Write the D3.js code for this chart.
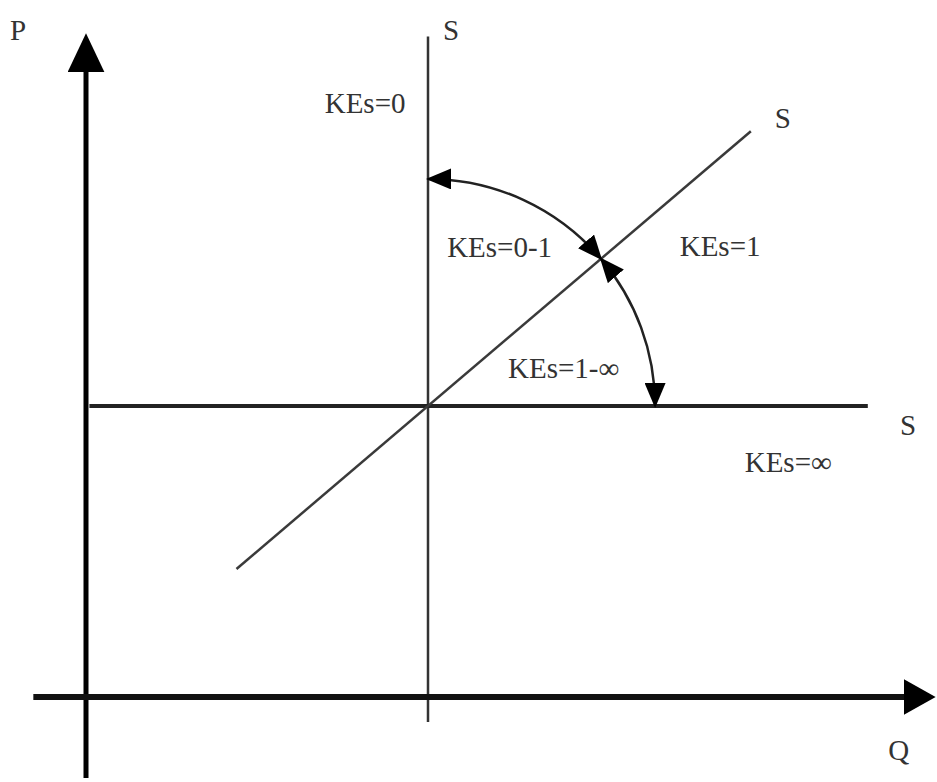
<!DOCTYPE html>
<html>
<head>
<meta charset="utf-8">
<script src="https://cdn.jsdelivr.net/npm/d3@7"></script>
<style>
html, body { margin: 0; padding: 0; background: #fff; }
svg { display: block; }
</style>
</head>
<body>
<svg id="chart"></svg>
<script>
// 軸の範囲 (データ単位: Q, P)
var axisQ = [-0.77, 12.1];
var axisP = [-1.39, 10.94];

// 供給曲線 S
var supplyInelastic = [[5, -0.43], [5, 11.35]];     // KEs=0
var supplyUnit = [[2.2, 2.2], [9.72, 9.72]];        // KEs=1
var supplyElastic = [[0.05, 5], [11.43, 5]];        // KEs=∞

// 弧 (中心と水平の S に届く Q)
var arcCenter = [5, 5];
var arcEndQ = 8.32;

// ラベル
var elasticityLabels = ["KEs=0", "KEs=0-1", "KEs=1", "KEs=1-∞", "KEs=∞"];
var elasticityQ = [3.49, 5.28, 8.68, 6.17, 9.63];
var elasticityP = [10.03, 7.56, 7.58, 5.48, 3.87];
var curveNames = ["S", "S", "S"];
var curveNameQ = [5.22, 10.07, 11.9];
var curveNameP = [11.29, 9.78, 4.5];
var axisNames = ["P", "Q"];
var axisNameQ = [-1.11, 11.73];
var axisNameP = [11.29, -1.08];

var width = 937;
var height = 782;

var svg = d3.select("#chart")
    .attr("width", width)
    .attr("height", height);

var x = d3.scaleLinear().domain([0, 10]).range([86, 770]);
var y = d3.scaleLinear().domain([0, 10]).range([697, 115]);

var defs = svg.append("defs");

// 矢印のマーカー
function addMarker(id, len, wid, refX) {
    defs.append("marker")
        .attr("id", id)
        .attr("markerUnits", "userSpaceOnUse")
        .attr("viewBox", "0 0 " + len + " " + wid)
        .attr("markerWidth", len)
        .attr("markerHeight", wid)
        .attr("refX", refX)
        .attr("refY", wid / 2)
        .attr("orient", "auto-start-reverse")
        .append("path")
        .attr("d", "M0,0 L" + len + "," + (wid / 2) + " L0," + wid + " Z")
        .attr("fill", "#000");
}
addMarker("headY", 39, 37, 12);
addMarker("headX", 32, 36, 10);
addMarker("headArc", 25, 21, 23);

var line = d3.line()
    .x(function (d) { return x(d[0]); })
    .y(function (d) { return y(d[1]); });

// 供給曲線
svg.append("path")
    .attr("d", line(supplyInelastic))
    .attr("stroke", "#333")
    .attr("stroke-width", 2.5)
    .attr("fill", "none");
svg.append("path")
    .attr("d", line(supplyElastic))
    .attr("stroke", "#222")
    .attr("stroke-width", 4)
    .attr("fill", "none");
svg.append("path")
    .attr("d", line(supplyUnit))
    .attr("stroke", "#3a3a3a")
    .attr("stroke-width", 2.5)
    .attr("fill", "none");

// 軸
svg.append("path")
    .attr("d", line([[0, axisP[0]], [0, axisP[1]]]))
    .attr("stroke", "#000")
    .attr("stroke-width", 5)
    .attr("fill", "none")
    .attr("marker-end", "url(#headY)");
svg.append("path")
    .attr("d", line([[axisQ[0], 0], [axisQ[1], 0]]))
    .attr("stroke", "#111")
    .attr("stroke-width", 6)
    .attr("fill", "none")
    .attr("marker-end", "url(#headX)");

// 弧 (KEs=0-1 と KEs=1-∞)
var cx = x(arcCenter[0]);
var cy = y(arcCenter[1]);
var r = x(arcEndQ) - cx;
var aDiag = Math.atan2(y(supplyUnit[1][1]) - y(supplyUnit[0][1]),
                       x(supplyUnit[1][0]) - x(supplyUnit[0][0]));
[[-Math.PI / 2, aDiag], [aDiag, 0]].forEach(function (a) {
    var p = d3.path();
    p.arc(cx, cy, r, a[0], a[1], false);
    svg.append("path")
        .attr("d", p.toString())
        .attr("stroke", "#222")
        .attr("stroke-width", 2.5)
        .attr("fill", "none")
        .attr("marker-start", "url(#headArc)")
        .attr("marker-end", "url(#headArc)");
});

// テキスト
var font = "'Liberation Serif', 'Times New Roman', serif";
function addTexts(texts, qs, ps) {
    texts.forEach(function (t, i) {
        svg.append("text")
            .attr("x", x(qs[i]))
            .attr("y", y(ps[i]))
            .attr("font-family", font)
            .attr("font-size", "29px")
            .attr("fill", "#333")
            .text(t);
    });
}
addTexts(elasticityLabels, elasticityQ, elasticityP);
addTexts(curveNames, curveNameQ, curveNameP);
addTexts(axisNames, axisNameQ, axisNameP);
</script>
</body>
</html>
